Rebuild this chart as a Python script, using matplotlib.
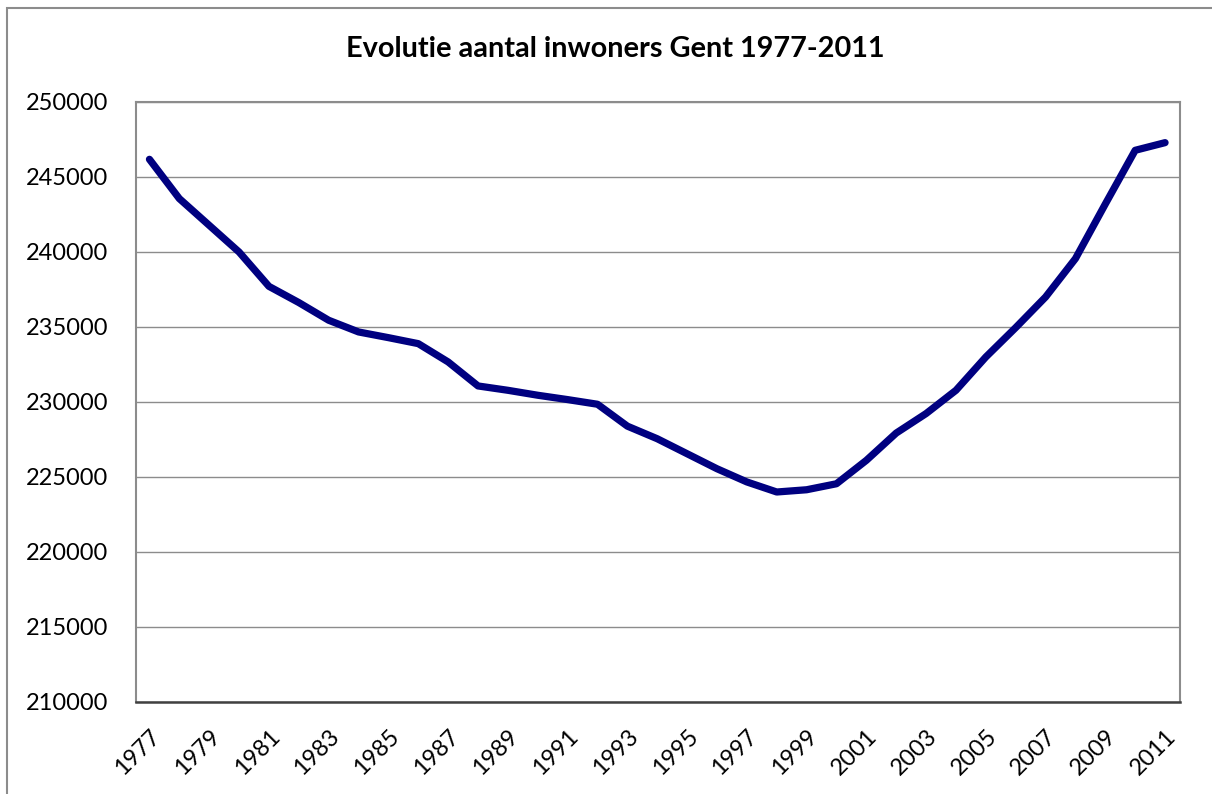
import matplotlib
matplotlib.use("Agg")
import matplotlib.pyplot as plt
from matplotlib.patches import Rectangle

years = list(range(1977, 2012))
inwoners = [246180, 243560, 241780, 240000, 237710, 236630, 235450, 234670,
            234290, 233890, 232670, 231070, 230780, 230450, 230160, 229850,
            228390, 227550, 226550, 225550, 224670, 224000, 224150, 224550,
            226110, 227930, 229230, 230780, 233000, 234960, 237000, 239560,
            243200, 246780, 247290]
y_ticks = list(range(210000, 250001, 5000))
x_tick_years = years[::2]
title = "Evolutie aantal inwoners Gent 1977-2011"

W, H = 1212, 794
fig = plt.figure(figsize=(W / 100, H / 100), dpi=100)
plt.rcParams['font.family'] = ['Lato', 'DejaVu Sans']

left, right, top, bottom = 136, 1180, 102, 702
ax = fig.add_axes([left / W, 1 - bottom / H, (right - left) / W, (bottom - top) / H])

ax.plot(years, inwoners, color="#000080", lw=5.2, solid_capstyle="round",
        solid_joinstyle="round", zorder=3)

ax.set_xlim(1976.55, 2011.5)
ax.set_ylim(210000, 250000)
ax.set_yticks(y_ticks)
ax.set_yticklabels([str(v) for v in y_ticks], fontsize=17)
ax.set_xticks(x_tick_years)
ax.set_xticklabels([str(v) for v in x_tick_years], fontsize=16.8, rotation=45,
                   ha="right", va="top", rotation_mode="anchor")
ax.tick_params(axis="both", length=0)
ax.tick_params(axis="y", pad=20)
ax.tick_params(axis="x", pad=17)
ax.grid(axis="y", color="#8c8c8c", lw=1.0)
ax.set_axisbelow(True)
for s in ["left", "top", "right"]:
    ax.spines[s].set_color("#8c8c8c")
    ax.spines[s].set_linewidth(1.5)
ax.spines["bottom"].set_color("#404040")
ax.spines["bottom"].set_linewidth(1.8)

fig.text(615 / W, 1 - 49 / H, title, ha="center", va="center",
         fontsize=20.8, fontweight="bold")

fig.patches.append(Rectangle((7 / W, -0.1), 1.2, 1 - 8 / H + 0.1,
                             transform=fig.transFigure, fill=False,
                             edgecolor="#8c8c8c", lw=1.5))

fig.savefig("out.png", dpi=100)
